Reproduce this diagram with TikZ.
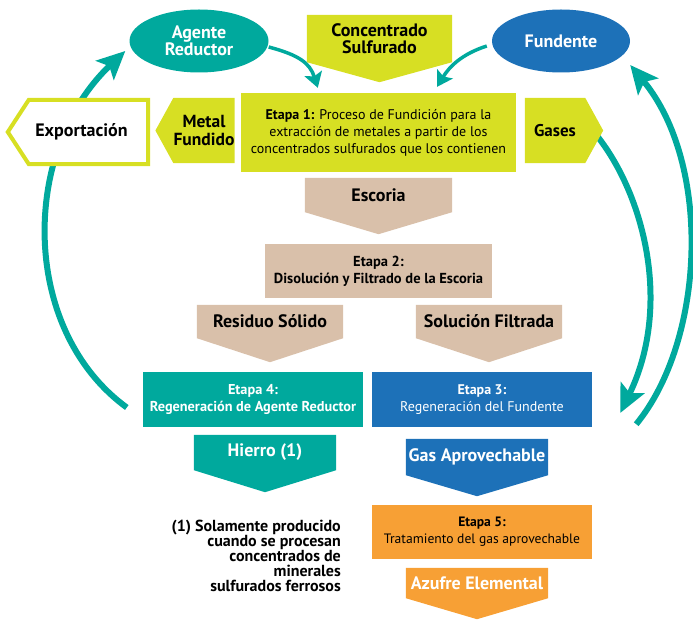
\documentclass[tikz,border=0pt]{standalone}
\usepackage{fontspec}
\setmainfont{PT Sans}
\usetikzlibrary{arrows.meta,shapes.geometric,backgrounds}

\definecolor{lima}{RGB}{215,223,35}
\definecolor{verdeazul}{RGB}{0,169,157}
\definecolor{azul}{RGB}{29,113,184}
\definecolor{arena}{RGB}{217,192,170}
\definecolor{naranja}{RGB}{247,160,53}

% puntas de las cajas-flecha: estilo, nodo, largo de la punta
\newcommand{\puntaabajo}[3]{\path[#1] (#2.north west) -- (#2.north east) -- (#2.south east) -- ([yshift=-#3]#2.south) -- (#2.south west) -- cycle;}
\newcommand{\puntaizq}[3]{\path[#1] (#2.north east) -- (#2.north west) -- ([xshift=-#3]#2.west) -- (#2.south west) -- (#2.south east) -- cycle;}
\newcommand{\puntader}[3]{\path[#1] (#2.north west) -- (#2.north east) -- ([xshift=#3]#2.east) -- (#2.south east) -- (#2.south west) -- cycle;}

\begin{document}
\begin{tikzpicture}[x=1pt,y=-1pt]
  \tikzstyle{etiqueta}=[rectangle, font=\fontsize{18}{17.5}\selectfont\bfseries, align=center, inner sep=0pt]
  \tikzstyle{caja}=[rectangle, inner sep=0pt, align=center, font=\fontsize{14}{17}\selectfont]
  \tikzstyle{flujo}=[draw=verdeazul, line width=6pt, -{Stealth[length=28pt,width=26pt,inset=6pt]}]
  \tikzstyle{flujochico}=[draw=verdeazul, line width=3.5pt, -{Stealth[length=15pt,width=18pt,inset=3pt]}]

  \useasboundingbox (0,0) rectangle (693,620);

  % entradas
  \node[etiqueta, ellipse, fill=verdeazul, text=white, minimum width=139pt, minimum height=63pt] (red) at (199,41) {Agente\\Reductor};
  \node[etiqueta, ellipse, fill=azul, text=white, minimum width=138pt, minimum height=63pt] (fund) at (561,41) {Fundente};
  \node[etiqueta, minimum width=145pt, minimum height=47pt] (conc) at (379.5,38.5) {Concentrado\\Sulfurado};

  % etapa 1 y sus salidas
  \node[caja, fill=lima, minimum width=275pt, minimum height=79pt] (etapa1) at (378.5,132.5) {\textbf{Etapa 1:} Proceso de Fundición para la\\extracción de metales a partir de los\\concentrados sulfurados que los contienen};
  \node[etiqueta, minimum width=58pt, minimum height=65pt, font=\fontsize{17.5}{17.5}\selectfont\bfseries] (metal) at (204,130.5) {Metal\\Fundido};
  \node[etiqueta, minimum width=119pt, minimum height=64pt] (expo) at (88.5,132) {Exportación\hspace*{14pt}};
  \node[etiqueta, minimum width=60pt, minimum height=65pt, font=\fontsize{17}{17}\selectfont\bfseries] (gases) at (555,130.5) {Gases};
  \node[etiqueta, minimum width=147pt, minimum height=34pt] (escoria) at (378.5,195) {Escoria};

  % etapa 2
  \node[caja, fill=arena, minimum width=227pt, minimum height=54pt, font=\fontsize{14.5}{17}\selectfont\bfseries] (etapa2) at (378.5,271) {Etapa 2:\\Disolución y Filtrado de la Escoria};
  \node[etiqueta, minimum width=146pt, minimum height=33pt] (residuo) at (270,321.5) {Residuo Sólido};
  \node[etiqueta, minimum width=146pt, minimum height=33pt] (solucion) at (489,321.5) {Solución Filtrada};

  % etapas 3 y 4
  \node[caja, fill=verdeazul, text=white, minimum width=220pt, minimum height=55pt, font=\fontsize{14.3}{17}\selectfont\bfseries] (etapa4) at (253,399.5) {Etapa 4:\\Regeneración de Agente Reductor};
  \node[caja, fill=azul, text=white, minimum width=220pt, minimum height=55pt] (etapa3) at (482,399.5) {\textbf{Etapa 3:}\\Regeneración del Fundente};
  \node[etiqueta, text=white, minimum width=142pt, minimum height=35pt] (hierro) at (265,452.5) {Hierro (1)};
  \node[etiqueta, text=white, minimum width=142pt, minimum height=36pt] (gasap) at (477,457) {Gas Aprovechable};

  % etapa 5
  \node[caja, fill=naranja, minimum width=220pt, minimum height=54pt, font=\fontsize{13.6}{17}\selectfont] (etapa5) at (482,532) {\textbf{Etapa 5:}\\Tratamiento del gas aprovechable};
  \node[etiqueta, text=white, minimum width=142pt, minimum height=30pt] (azufre) at (477,583) {Azufre Elemental};

  \node[etiqueta, align=right, anchor=north east, font=\fontsize{16}{15}\selectfont\bfseries] (nota) at (341,520) {(1) Solamente producido\ \\cuando se procesan\\concentrados de\\minerales\\sulfurados ferrosos};

  \begin{scope}[on background layer]
    % flechas
    \draw[flujochico] ([yshift=-6pt]red.east) .. controls +(30,8) and +(-8,-25) .. ([xshift=77pt,yshift=5pt]etapa1.north west);
    \draw[flujochico] ([xshift=-5pt,yshift=-5pt]fund.west) .. controls +(-25,8) and +(12,-20) .. ([xshift=-79pt,yshift=6pt]etapa1.north east);
    \draw[flujo] ([xshift=-16pt,yshift=-8pt]etapa4.west) .. controls +(-107,-78) and +(-105,99) .. ([xshift=-4pt,yshift=-10pt]red.west);
    \draw[flujo] ([xshift=2pt,yshift=6pt]gases.east) .. controls +(53,56) and +(55,-113) .. ([xshift=28pt,yshift=-13.5pt]etapa3.east);
    \draw[flujo] ([xshift=44pt,yshift=3pt]etapa3.south east) .. controls +(69,-84) and +(82,99) .. ([yshift=-24pt]fund.east);
    % cajas-flecha
    \puntaabajo{fill=lima}{conc}{20pt}
    \puntaizq{fill=lima}{metal}{18pt}
    \puntaizq{fill=white, draw=lima, line width=4pt}{expo}{21pt}
    \puntader{fill=lima}{gases}{18pt}
    \puntaabajo{fill=arena}{escoria}{22pt}
    \puntaabajo{fill=arena}{residuo}{24pt}
    \puntaabajo{fill=arena}{solucion}{24pt}
    \puntaabajo{fill=verdeazul}{hierro}{22pt}
    \puntaabajo{fill=azul}{gasap}{21pt}
    \puntaabajo{fill=naranja}{azufre}{21pt}
  \end{scope}
\end{tikzpicture}
\end{document}
